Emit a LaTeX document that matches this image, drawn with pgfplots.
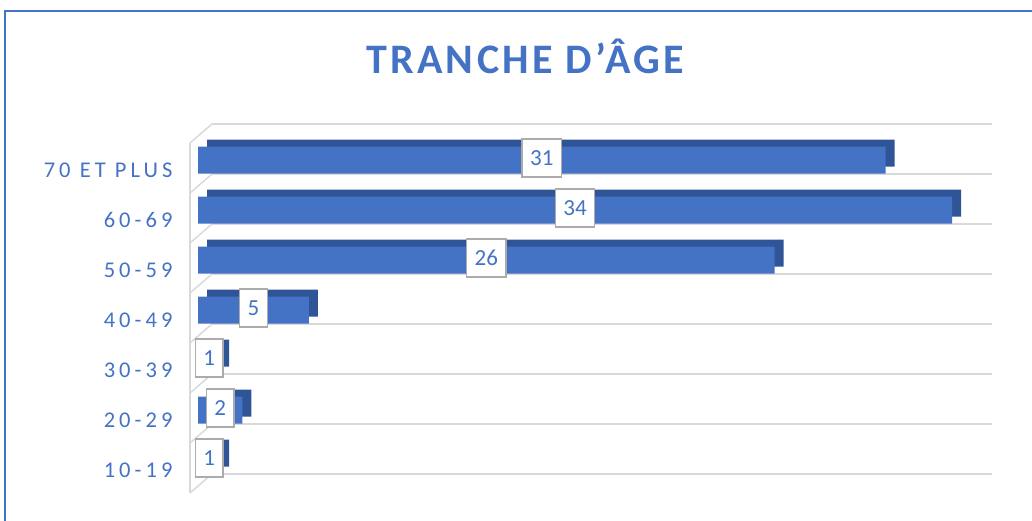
\documentclass[border=0pt]{standalone}
\usepackage{pgfplots}
\pgfplotsset{compat=1.18}
\usepackage{pgfplotstable}
\usepackage{fontspec}
\setmainfont{Carlito}
\newfontfamily\titlefont[LetterSpace=8]{Carlito}
\newfontfamily\labfont[LetterSpace=18]{Carlito}
\definecolor{xlblue}{HTML}{4472C4}
\definecolor{xldark}{HTML}{2F5597}
\definecolor{gridgray}{HTML}{D9D9D9}
\definecolor{boxgray}{HTML}{ABABAB}
\pgfplotstableread{
k v
0 1
1 2
2 1
3 5
4 26
5 34
6 31
}\agedata
\begin{document}
\begin{tikzpicture}[x=1pt,y=1pt]
\useasboundingbox (0,0) rectangle (1032,-520);
\draw[xlblue, line width=2.2pt] (5,-600) -- (5,-11) -- (1100,-11);
\node[anchor=base, text=xlblue, font=\titlefont\bfseries\fontsize{42}{46}\selectfont] at (525,-73) {TRANCHE D’ÂGE};
\begin{axis}[
  at={(198pt,-505pt)}, anchor=south west,
  scale only axis, width=794pt, height=380pt,
  xmin=0, xmax=35.8, ymin=-0.9, ymax=6.7,
  clip=false,
  axis line style={draw=none},
  xtick=\empty,
  ytick={0,...,6},
  yticklabels={10-19,20-29,30-39,40-49,50-59,60-69,70 ET PLUS},
  major tick length=0pt,
  yticklabel style={font=\labfont\fontsize{22.5}{25}\selectfont, text=xlblue, yshift=-10pt, xshift=-22pt},
  /pgf/number format/assume math mode=true,
]
\pgfplotsinvokeforeach{-0.28,0.72,1.72,2.72,3.72,4.72,5.72,6.72}{
  \draw[gridgray, line width=2pt] (axis cs:0.63,#1) -- (axis cs:35.8,#1);
  \draw[gridgray, line width=1.5pt] (axis cs:0.63,#1) -- ++(-22pt,-19pt);
}
\draw[gridgray, line width=1.5pt] (axis cs:-0.36,6.34) -- (axis cs:-0.36,-0.66);
\addplot[xbar, bar width=27pt, fill=xldark, draw=none, xshift=9pt, yshift=7pt] table[x=v,y=k]{\agedata};
\addplot[xbar, bar width=27pt, fill=xlblue, draw=none] table[x=v,y=k]{\agedata};
\addplot[draw=none, point meta=explicit,
  nodes near coords={\fontsize{23}{25}\selectfont\pgfmathprintnumber{\pgfplotspointmeta}},
  nodes near coords style={anchor=center, fill=white, draw=boxgray, line width=1.5pt, text=xlblue,
    inner xsep=8pt, inner ysep=0pt, minimum height=38pt, yshift=2pt}]
  table[x expr=\thisrow{v}/2, y=k, meta=v]{\agedata};
\end{axis}
\end{tikzpicture}
\end{document}
